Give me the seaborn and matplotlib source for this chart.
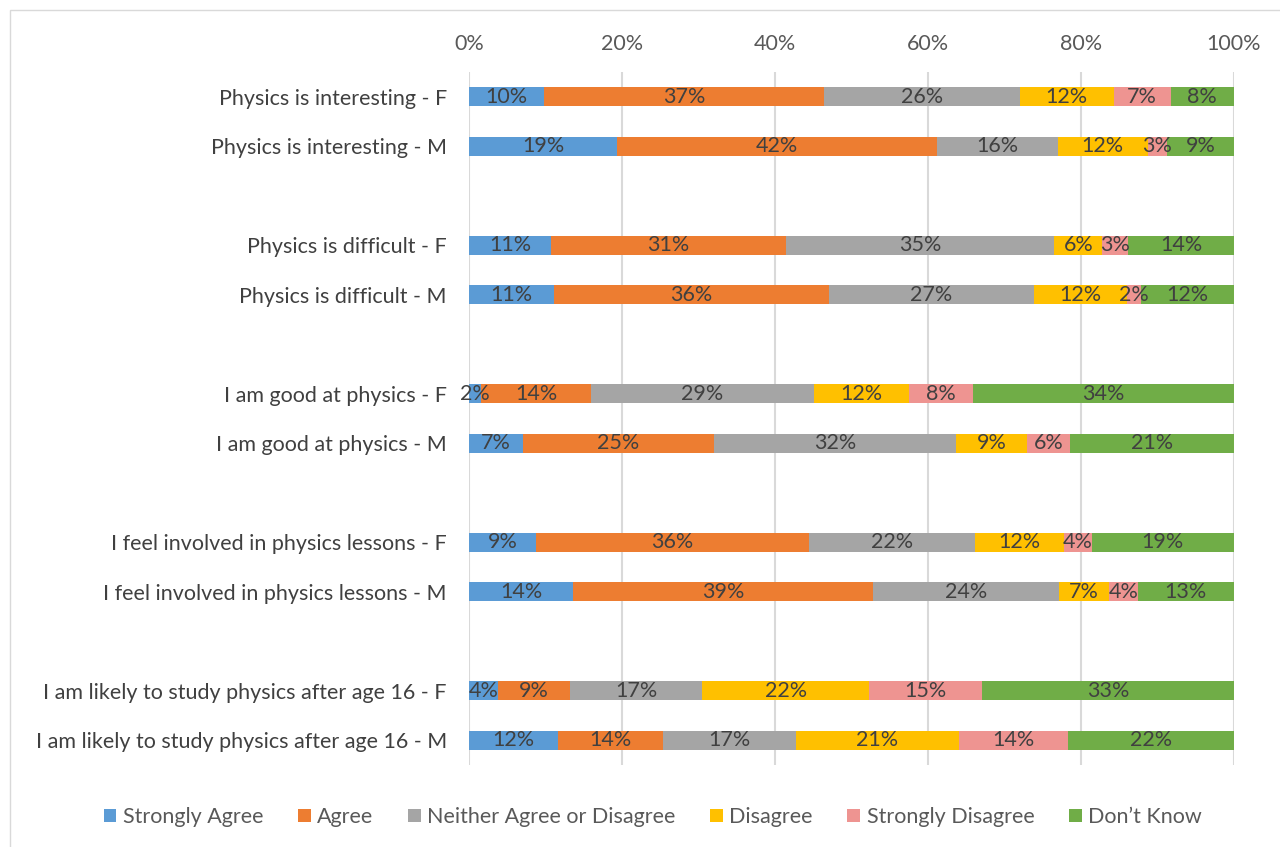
import numpy as np
import pandas as pd
import matplotlib.pyplot as plt
import seaborn as sns
from matplotlib.patches import Rectangle, Patch

# rows, top to bottom (blank strings are the spacer rows)
rows = ["Physics is interesting - F", "Physics is interesting - M", " ",
        "Physics is difficult - F", "Physics is difficult - M", "  ",
        "I am good at physics - F", "I am good at physics - M", "   ",
        "I feel involved in physics lessons - F", "I feel involved in physics lessons - M", "    ",
        "I am likely to study physics after age 16 - F", "I am likely to study physics after age 16 - M"]

bar_rows = [r for r in rows if r.strip()]
answers = ["Strongly Agree", "Agree", "Neither Agree or Disagree", "Disagree", "Strongly Disagree", "Don\u2019t Know"]
colors = ["#5B9BD5", "#ED7D31", "#A5A5A5", "#FFC000", "#EE9491", "#70AD47"]

strongly_agree = [9.8, 19.4, 10.7, 11.1, 1.6, 7.0, 8.8, 13.6, 3.8, 11.6]
agree = [36.6, 41.8, 30.7, 35.9, 14.3, 25.0, 35.6, 39.2, 9.4, 13.7]
neither = [25.6, 15.8, 35.1, 26.8, 29.2, 31.7, 21.7, 24.3, 17.3, 17.4]
disagree = [12.3, 11.7, 6.3, 12.2, 12.4, 9.2, 11.7, 6.6, 21.8, 21.4]
strongly_disagree = [7.4, 2.6, 3.4, 1.9, 8.4, 5.7, 3.6, 3.7, 14.8, 14.2]
dont_know = [8.3, 8.7, 13.8, 12.1, 34.1, 21.4, 18.6, 12.6, 32.9, 21.7]

df = pd.DataFrame({"row": bar_rows, answers[0]: strongly_agree, answers[1]: agree,
                   answers[2]: neither, answers[3]: disagree, answers[4]: strongly_disagree,
                   answers[5]: dont_know})
vals = df[answers].to_numpy()
vals = vals / vals.sum(axis=1, keepdims=True) * 100
cum = np.cumsum(vals, axis=1)

sns.set_theme(style="white")
plt.rcParams['font.family'] = ['Lato', 'DejaVu Sans']

fig = plt.figure(figsize=(12.8, 8.47), dpi=100)
ax = fig.add_axes([469 / 1280, 1 - 765 / 847, (1234 - 469) / 1280, (765 - 72) / 847])

# draw cumulative bars from the widest down so each segment shows
for j in range(len(answers) - 1, -1, -1):
    d = pd.DataFrame({"row": bar_rows, "x": cum[:, j]})
    sns.barplot(data=d, x="x", y="row", order=rows, orient="h", color=colors[j],
                saturation=1, width=0.39, linewidth=0, ax=ax)

ypos = {r: i for i, r in enumerate(rows)}
for i, r in enumerate(bar_rows):
    left = 0
    for j in range(len(answers)):
        w = vals[i, j]
        ax.text(left + w / 2, ypos[r], f"{w:.0f}%", ha="center", va="center",
                fontsize=15.5, color="#404040")
        left += w

ax.set_xlim(0, 100)
ax.set_ylim(len(rows) - 0.5, -0.5)
ax.xaxis.tick_top()
ax.set_xticks(np.arange(0, 101, 20))
ax.set_xticklabels([f"{t}%" for t in range(0, 101, 20)])
ax.tick_params(axis="x", length=0, pad=13, labelsize=15.5, labelcolor="#595959")
ax.tick_params(axis="y", length=0, pad=16, labelsize=15.5, labelcolor="#404040")
ax.set_xlabel("")
ax.set_ylabel("")
ax.grid(axis="x", color="#D9D9D9", linewidth=1.5)
ax.set_axisbelow(True)
for s in ax.spines.values():
    s.set_visible(False)

handles = [Patch(facecolor=c, edgecolor="none") for c in colors]
fig.legend(handles, answers, loc="center", bbox_to_anchor=(0.51, 1 - 817 / 847), ncol=6,
           frameon=False, fontsize=15.5, handlelength=0.6, handleheight=0.6,
           handletextpad=0.3, columnspacing=1.6, labelcolor="#595959")

fig.patches.append(Rectangle((10 / 1280, -0.01), 1.1, 1 - 10 / 847 + 0.01, transform=fig.transFigure,
                             fill=False, edgecolor="#D9D9D9", linewidth=1))

fig.savefig("out.png", dpi=100)
